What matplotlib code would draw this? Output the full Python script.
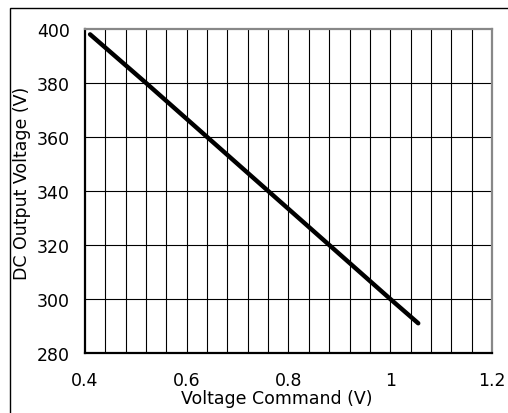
import numpy as np
import matplotlib
matplotlib.use("Agg")
import matplotlib.pyplot as plt
from matplotlib.patches import Rectangle

# values
voltage_command = [0.41, 0.52, 0.64, 0.76, 0.88, 1.00, 1.055]
dc_output = [398, 380, 360, 340, 320, 300, 291]

x_ticks = [0.4, 0.6, 0.8, 1.0, 1.2]
x_tick_labels = ["0.4", "0.6", "0.8", "1", "1.2"]
y_ticks = [280, 300, 320, 340, 360, 380, 400]

plt.rcParams['font.family'] = ['DejaVu Sans']

fig = plt.figure(figsize=(5.08, 4.14), dpi=100)
ax = fig.add_axes([0.1673, 0.145, 0.8012, 0.7826])

# grid
for xv in np.arange(0.44, 1.2, 0.04):
    ax.axvline(xv, color='black', lw=0.8, zorder=1)
for yv in y_ticks[1:-1]:
    ax.axhline(yv, color='black', lw=0.8, zorder=1)

ax.plot(voltage_command, dc_output, color='black', lw=3.2,
        solid_capstyle='round', zorder=3)

ax.set_xlim(0.4, 1.2)
ax.set_ylim(280, 400)
ax.set_xticks(x_ticks)
ax.set_xticklabels(x_tick_labels)
ax.set_yticks(y_ticks)
ax.tick_params(length=0, labelsize=12.5)
ax.tick_params(axis='y', pad=11)
ax.tick_params(axis='x', pad=13)

ax.spines['left'].set_color('black')
ax.spines['bottom'].set_color('black')
ax.spines['left'].set_linewidth(1.6)
ax.spines['bottom'].set_linewidth(1.6)
ax.spines['top'].set_color('#888888')
ax.spines['right'].set_color('#888888')
ax.spines['top'].set_linewidth(1.6)
ax.spines['right'].set_linewidth(1.6)

ax.set_xlabel('Voltage Command (V)', fontsize=12.5)
ax.set_ylabel('DC Output Voltage (V)', fontsize=12.5)
ax.xaxis.set_label_coords(0.47, -0.11)
ax.yaxis.set_label_coords(-0.133, 0.526)

# outer frame
fig.patches.append(Rectangle((10 / 508, -0.1), 1.2, 1 + 0.1 - 9 / 414,
                             transform=fig.transFigure, fill=False,
                             edgecolor='black', lw=1.0))

fig.savefig('out.png', dpi=100)
